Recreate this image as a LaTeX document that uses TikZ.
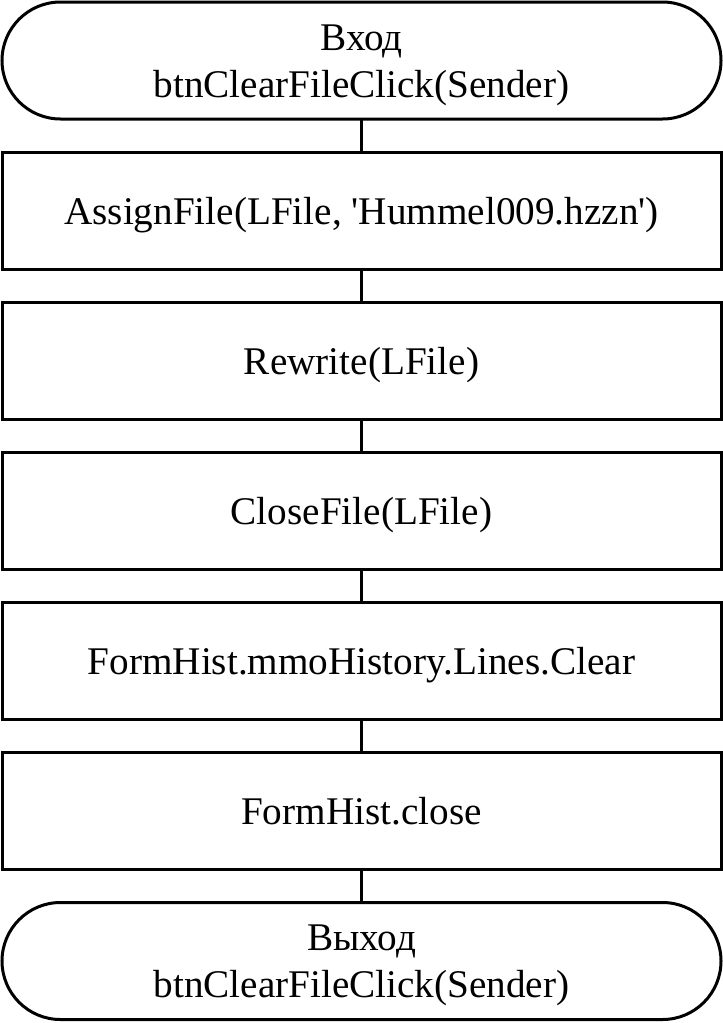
\documentclass[tikz,border=0pt]{standalone}
\usepackage{fontspec}
\setmainfont{Liberation Serif}[Ligatures=TeXOff]
\begin{document}
\begin{tikzpicture}[x=1pt,y=-1pt,
  every node/.style={font=\fontsize{39.2}{47.5}\selectfont, inner sep=0pt, outer sep=0pt},
  term/.style={draw, line width=3pt, rounded corners=58.5pt, minimum width=719pt, minimum height=117pt},
  proc/.style={draw, line width=3pt, minimum width=719pt, minimum height=117pt, text height=26pt, text depth=0pt},
  line/.style={anchor=base},
  conn/.style={line width=3pt}]
\useasboundingbox (0,0) rectangle (723,1023);
\node[term] (s) at (361.5,60.5) {};
\node[line, yshift=10.5pt] (s1) at (s.center) {Вход};
\node[line, yshift=-36.5pt] (s2) at (s.center) {btnClearFileClick(Sender)};
\node[proc] (b1) at (361.5,211) {AssignFile(LFile, 'Hummel009.hzzn')};
\node[proc] (b2) at (361.5,361) {Rewrite(LFile)};
\node[proc] (b3) at (361.5,511) {CloseFile(LFile)};
\node[proc] (b4) at (361.5,661) {FormHist.mmoHistory.Lines.Clear};
\node[proc] (b5) at (361.5,811) {FormHist.close};
\node[term] (e) at (361.5,961) {};
\node[line, yshift=10.5pt] (e1) at (e.center) {Выход};
\node[line, yshift=-36.5pt] (e2) at (e.center) {btnClearFileClick(Sender)};
\draw[conn] (s.south) -- (b1.north);
\draw[conn] (b1.south) -- (b2.north);
\draw[conn] (b2.south) -- (b3.north);
\draw[conn] (b3.south) -- (b4.north);
\draw[conn] (b4.south) -- (b5.north);
\draw[conn] (b5.south) -- (e.north);
\end{tikzpicture}
\end{document}
